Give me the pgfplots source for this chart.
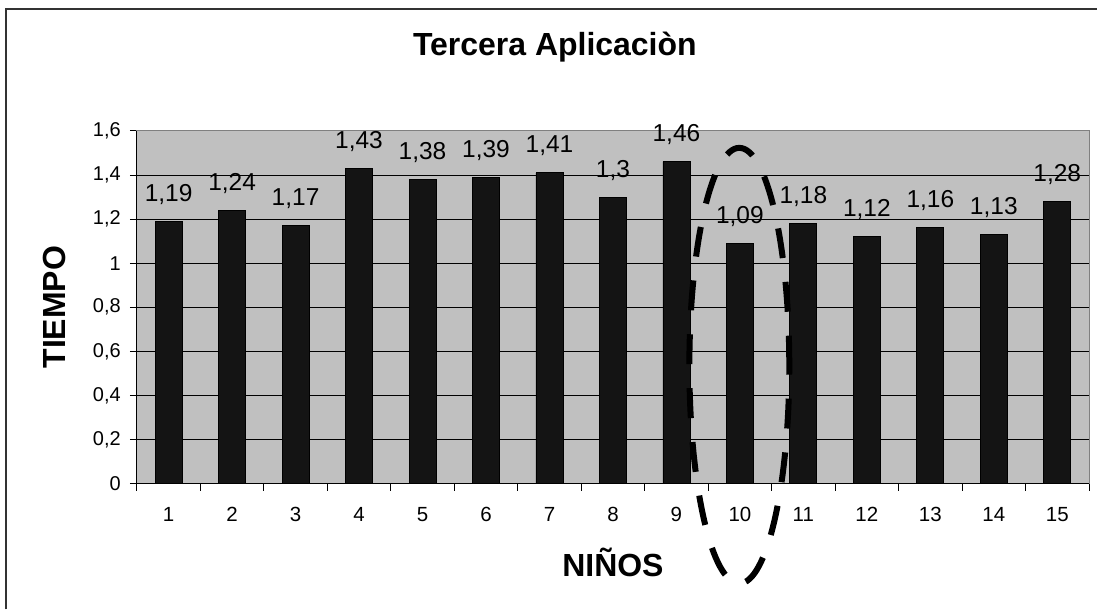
\documentclass[border=0pt]{standalone}
\usepackage{fontspec}
\setmainfont{Liberation Sans}
\usepackage{pgfplots}
\pgfplotsset{compat=1.18}
\usetikzlibrary{calc}
\definecolor{plotgray}{HTML}{C0C0C0}
\definecolor{barblack}{HTML}{141414}
\definecolor{framegray}{HTML}{333333}
\definecolor{bordergray}{HTML}{808080}
\begin{document}
\begin{tikzpicture}
\begin{axis}[
  name=ax,
  scale only axis,
  width=953bp, height=353bp,
  xmin=0.5, xmax=15.5,
  ymin=0, ymax=1.6,
  ytick={0,0.2,0.4,0.6,0.8,1,1.2,1.4,1.6},
  xtick={0.5,1.5,...,15.5},
  x tick label as interval,
  xticklabels={1,2,3,4,5,6,7,8,9,10,11,12,13,14,15},
  tick align=outside,
  xtick pos=bottom, ytick pos=left,
  major tick length=7bp,
  tick style={black, line width=0.8bp},
  ymajorgrids,
  grid style={black, line width=0.8bp},
  axis background/.style={fill=plotgray},
  axis line style={draw=bordergray, line width=0.8bp},
  /pgf/number format/assume math mode=true,
  /pgf/number format/use comma,
  yticklabel style={font=\fontsize{20bp}{23bp}\selectfont, anchor=east, inner sep=0pt, xshift=-9bp},
  xticklabel style={font=\fontsize{20.5bp}{23bp}\selectfont, anchor=base, inner sep=0pt, yshift=-30.7bp},
  title={Tercera Aplicaciòn},
  title style={font=\fontsize{32bp}{36bp}\selectfont\bfseries, at={(axis description cs:0.439,1.1955)}, anchor=base, inner sep=0pt},
  xlabel={NIÑOS},
  xlabel style={font=\fontsize{32bp}{36bp}\selectfont\bfseries, at={(axis description cs:0.5,-0.2635)}, anchor=base, inner sep=0pt},
  ylabel={TIEMPO},
  ylabel style={font=\fontsize{32bp}{36bp}\selectfont\bfseries, at={(axis description cs:-0.086,0.5)}, anchor=center, inner sep=0pt},
  clip=false,
]
\addplot[ybar, bar width=27bp, fill=barblack, draw=black, line width=0.8bp,
  nodes near coords,
  every node near coord/.append style={font=\fontsize{24.5bp}{28bp}\selectfont, anchor=base, inner sep=0pt, yshift=20bp, black}]
  coordinates {(1,1.19) (2,1.24) (3,1.17) (4,1.43) (5,1.38) (6,1.39) (7,1.41) (8,1.3) (9,1.46) (10,1.09) (11,1.18) (12,1.12) (13,1.16) (14,1.13) (15,1.28)};
\end{axis}
\draw[black, line width=1bp] (ax.south west) -- (ax.south east);
\draw[black, line width=1bp] (ax.south west) -- (ax.north west);
\draw[black, line width=6bp, dash pattern=on 30bp off 24bp] ($(ax.south west)+(603bp,118bp)$) ellipse [x radius=50bp, y radius=218bp];
\pgfresetboundingbox
\path ($(ax.south west)+(-137bp,-126bp)$) rectangle ($(ax.south west)+(961bp,484bp)$);
\draw[framegray, line width=2bp] ($(ax.south west)+(-130.5bp,-126bp)$) -- ($(ax.south west)+(-130.5bp,475bp)$) -- ($(ax.south west)+(961bp,475bp)$);
\end{tikzpicture}
\end{document}
